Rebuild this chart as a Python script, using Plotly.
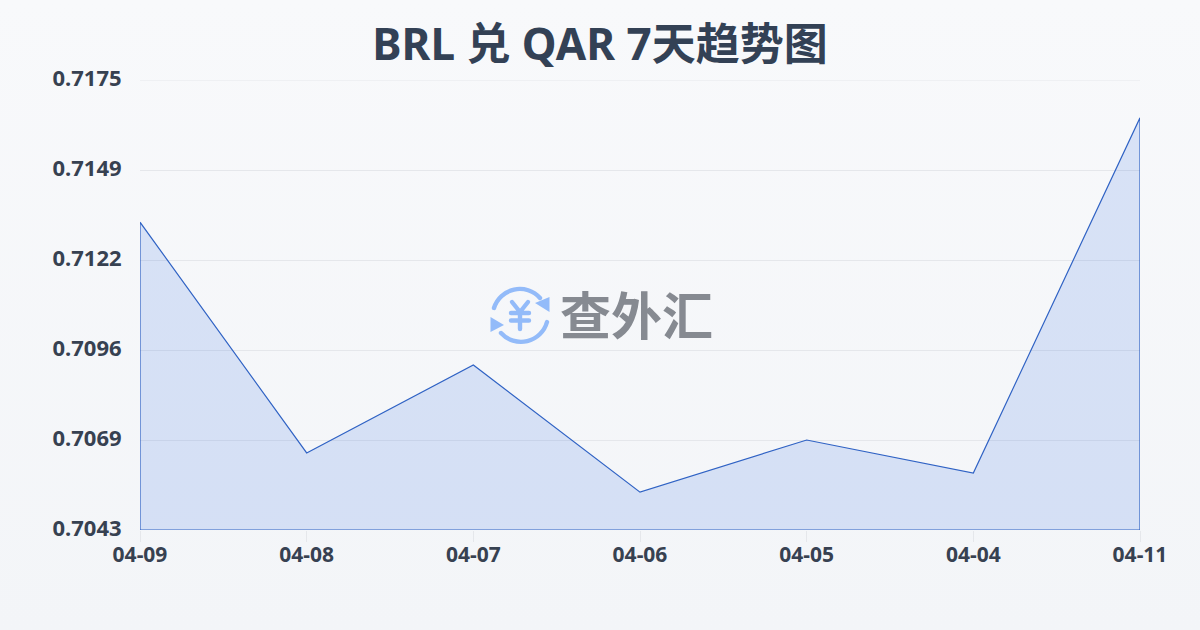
import urllib.parse
import plotly.graph_objects as go

dates = ["04-09", "04-08", "04-07", "04-06", "04-05", "04-04", "04-11"]
rates = [0.71333, 0.70656, 0.70914, 0.70541, 0.70694, 0.70597, 0.71639]
y_ticks = [0.7175, 0.71486, 0.71222, 0.70958, 0.70694, 0.7043]
y_labels = ["0.7175", "0.7149", "0.7122", "0.7096", "0.7069", "0.7043"]
y_min, y_max = 0.7043, 0.7175
title = "BRL 兑 QAR 7天趋势图"
brand = "查外汇"


def svg_uri(svg):
    return "data:image/svg+xml," + urllib.parse.quote(svg)


bg_svg = (
    '<svg xmlns="http://www.w3.org/2000/svg" width="1200" height="630" preserveAspectRatio="none">'
    '<defs><linearGradient id="g" x1="0" y1="0" x2="0" y2="1">'
    '<stop offset="0" stop-color="#f8f9fb"/><stop offset="1" stop-color="#f3f5f8"/>'
    '</linearGradient></defs><rect width="1200" height="630" fill="url(#g)"/></svg>'
)
icon_svg = (
    '<svg xmlns="http://www.w3.org/2000/svg" width="70" height="70" viewBox="485 280 70 70">'
    '<g fill="none" stroke="#93bbf9" stroke-width="4.4" stroke-linecap="round" stroke-linejoin="round">'
    '<path d="M494 308 A27 27 0 0 1 540 298"/>'
    '<path d="M547 322 A27 27 0 0 1 501 333"/>'
    '<path d="M512 302 L520 312 L528 302 M511 313 H529 M511 320.500 H529 M520 312 V329"/>'
    '</g><g fill="#93bbf9">'
    '<path d="M549.500 297 V312 L535 303 Z"/><path d="M490.500 317 V332 L504 325 Z"/>'
    '</g></svg>'
)

fig = go.Figure()
fig.add_trace(go.Scatter(
    x=dates + [dates[-1], dates[0], dates[0]],
    y=rates + [y_min, y_min, rates[0]],
    mode="lines",
    fill="toself",
    fillcolor="rgba(30,90,225,0.14)",
    line=dict(color="#2f62c4", width=1.2),
    hoverinfo="skip",
    showlegend=False,
))

fig.update_layout(
    width=1200, height=630, autosize=False,
    margin=dict(l=140, r=59.5, t=80, b=99.5, pad=0),
    paper_bgcolor="#f5f7fa",
    plot_bgcolor="rgba(0,0,0,0)",
    title=dict(
        text=title, x=0.5, xanchor="center", y=0.93, yanchor="middle",
        font=dict(family="Noto Sans, Noto Sans CJK SC", size=44, color="#334155", weight="bold"),
    ),
    images=[
        dict(source=svg_uri(bg_svg), xref="paper", yref="paper", x=-140 / 1000, y=1 + 80 / 450,
             sizex=1.2, sizey=1.4, xanchor="left", yanchor="top", sizing="stretch", layer="below"),
        dict(source=svg_uri(icon_svg), xref="paper", yref="paper", x=345 / 1000, y=250 / 450,
             sizex=0.07, sizey=70 / 450, xanchor="left", yanchor="top", sizing="stretch", layer="above"),
    ],
    annotations=[dict(
        text=brand, xref="paper", yref="paper", x=496 / 1000, y=217 / 450,
        xanchor="center", yanchor="middle", showarrow=False,
        font=dict(family="Noto Sans CJK SC", size=51, color="#868a91", weight="bold"),
    )],
    shapes=[dict(
        type="line", xref="paper", x0=0, x1=1, yref="y", y0=y_ticks[0], y1=y_ticks[0],
        line=dict(color="#e5e7eb", width=1), layer="below",
    )],
    xaxis=dict(
        type="category", range=[0, 6], showgrid=False, zeroline=False, showline=False,
        ticks="outside", ticklen=11, tickwidth=1, tickcolor="#e5e7eb",
        ticklabelstandoff=-5,
        tickfont=dict(family="Noto Sans", size=21, color="#374151", weight="bold"),
        automargin=False,
    ),
    yaxis=dict(
        range=[y_min, y_max], tickmode="array", tickvals=y_ticks, ticktext=y_labels,
        showgrid=True, gridcolor="#e5e7eb", gridwidth=1, zeroline=False, showline=False,
        ticks="outside", ticklen=13, tickcolor="rgba(0,0,0,0)",
        ticklabelshift=-2,
        tickfont=dict(family="Noto Sans", size=22, color="#374151", weight="bold"),
        automargin=False,
    ),
)

fig.write_html("out.html", config={"displayModeBar": False},
               post_script="document.body.style.margin='0';document.documentElement.style.overflow='hidden';")
